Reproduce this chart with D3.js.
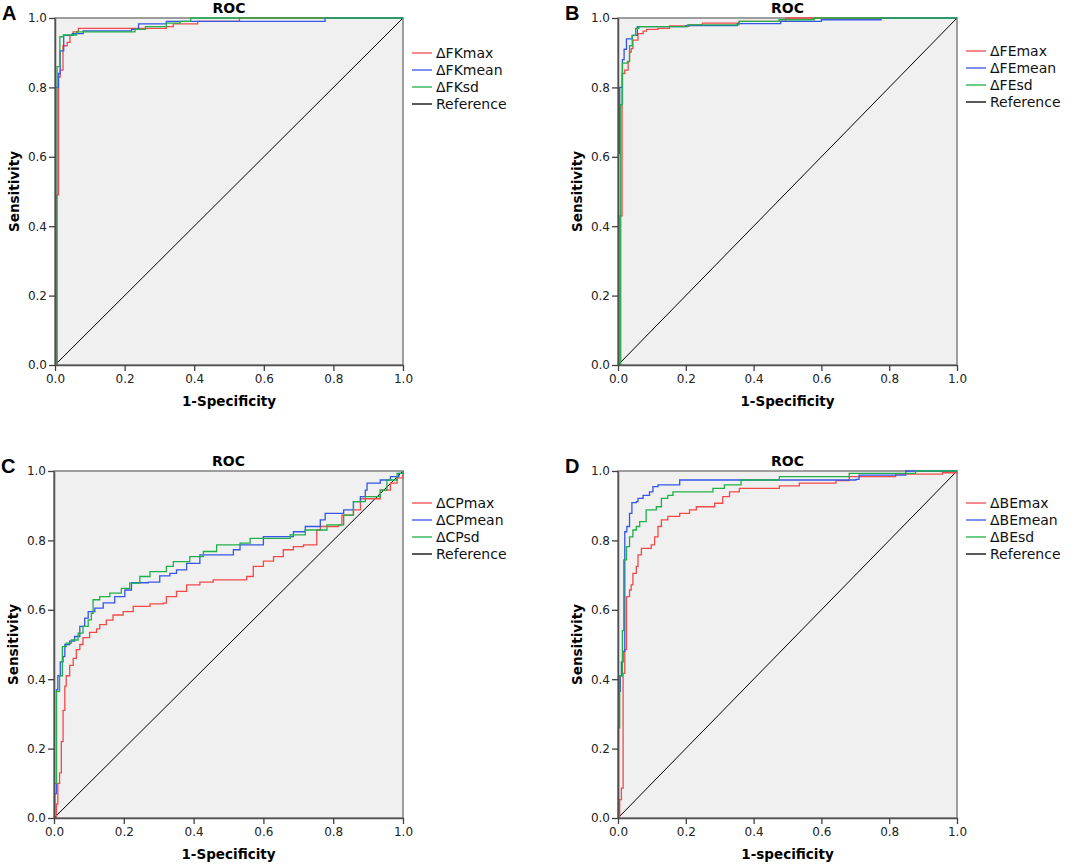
<!DOCTYPE html>
<html>
<head>
<meta charset="utf-8">
<script src="https://cdn.jsdelivr.net/npm/d3@7"></script>
<style>
  body { margin: 0; background: #fff; }
</style>
</head>
<body>
<div id="wrapper"></div>
<script>
// ROC points as [1-specificity, sensitivity] (step curves)
const fkMax = [[0,0],[0.005,0.49],[0.01,0.83],[0.015,0.85],[0.023,0.92],[0.035,0.93],[0.043,0.95],[0.052,0.96],[0.067,0.97],[0.32,0.975],[0.34,0.983],[0.41,0.99],[0.53,1],[1,1]];
const fkMean = [[0,0],[0.002,0.8],[0.01,0.84],[0.015,0.905],[0.025,0.95],[0.05,0.955],[0.081,0.963],[0.22,0.967],[0.24,0.983],[0.32,0.99],[0.776,1],[1,1]];
const fkSd = [[0,0],[0.006,0.86],[0.014,0.946],[0.024,0.951],[0.062,0.96],[0.23,0.967],[0.26,0.975],[0.32,0.985],[0.36,0.99],[0.39,1],[1,1]];

const feMax = [[0,0],[0.006,0.43],[0.012,0.84],[0.02,0.85],[0.03,0.874],[0.034,0.902],[0.039,0.912],[0.044,0.936],[0.059,0.955],[0.074,0.962],[0.084,0.967],[0.118,0.97],[0.152,0.977],[0.21,0.98],[0.249,0.985],[0.357,0.99],[0.495,1],[1,1]];
const feMean = [[0,0],[0.002,0.61],[0.005,0.8],[0.013,0.88],[0.018,0.91],[0.025,0.94],[0.042,0.95],[0.057,0.975],[0.2,0.978],[0.352,0.984],[0.48,0.99],[0.6,0.995],[0.776,1],[1,1]];
const feSd = [[0,0],[0.008,0.75],[0.013,0.87],[0.028,0.875],[0.034,0.92],[0.042,0.95],[0.052,0.97],[0.062,0.975],[0.205,0.98],[0.357,0.99],[0.475,0.995],[0.579,1],[1,1]];

const cpMax = [[0,0],[0.007,0.04],[0.011,0.1],[0.016,0.13],[0.021,0.22],[0.026,0.31],[0.031,0.38],[0.035,0.41],[0.045,0.44],[0.055,0.46],[0.064,0.485],[0.074,0.5],[0.083,0.52],[0.102,0.535],[0.122,0.545],[0.131,0.557],[0.15,0.57],[0.169,0.585],[0.198,0.595],[0.227,0.61],[0.275,0.617],[0.313,0.619],[0.322,0.638],[0.351,0.653],[0.38,0.672],[0.418,0.68],[0.456,0.686],[0.552,0.696],[0.571,0.725],[0.6,0.74],[0.629,0.753],[0.657,0.773],[0.686,0.782],[0.715,0.787],[0.753,0.83],[0.763,0.84],[0.815,0.845],[0.825,0.873],[0.858,0.888],[0.878,0.92],[0.935,0.945],[0.964,0.965],[0.983,0.98],[1,1]];
const cpMean = [[0,0],[0.002,0.07],[0.007,0.37],[0.011,0.41],[0.018,0.45],[0.026,0.465],[0.031,0.5],[0.045,0.51],[0.059,0.523],[0.074,0.552],[0.088,0.576],[0.098,0.595],[0.117,0.605],[0.141,0.62],[0.174,0.638],[0.203,0.657],[0.222,0.678],[0.27,0.68],[0.303,0.698],[0.332,0.705],[0.351,0.715],[0.38,0.734],[0.418,0.758],[0.514,0.773],[0.533,0.787],[0.6,0.811],[0.686,0.825],[0.72,0.84],[0.763,0.859],[0.777,0.878],[0.83,0.888],[0.858,0.912],[0.878,0.926],[0.892,0.945],[0.897,0.965],[0.935,0.974],[0.964,0.984],[0.988,0.993],[1,1]];
const cpSd = [[0,0],[0.002,0.1],[0.007,0.365],[0.016,0.41],[0.024,0.494],[0.035,0.504],[0.05,0.513],[0.069,0.533],[0.083,0.552],[0.098,0.571],[0.107,0.59],[0.112,0.629],[0.131,0.638],[0.16,0.648],[0.193,0.662],[0.217,0.677],[0.246,0.696],[0.275,0.71],[0.322,0.725],[0.342,0.739],[0.389,0.753],[0.428,0.768],[0.466,0.787],[0.533,0.792],[0.562,0.806],[0.677,0.816],[0.72,0.83],[0.782,0.845],[0.83,0.873],[0.858,0.912],[0.892,0.926],[0.935,0.945],[0.954,0.974],[0.983,0.993],[1,1]];

const beMax = [[0,0],[0.005,0.053],[0.01,0.086],[0.015,0.417],[0.02,0.485],[0.025,0.638],[0.034,0.657],[0.039,0.672],[0.044,0.705],[0.054,0.725],[0.059,0.758],[0.069,0.777],[0.098,0.787],[0.108,0.81],[0.118,0.84],[0.128,0.859],[0.147,0.869],[0.182,0.878],[0.211,0.888],[0.231,0.897],[0.285,0.907],[0.309,0.926],[0.329,0.94],[0.358,0.95],[0.476,0.957],[0.535,0.965],[0.643,0.972],[0.682,0.984],[0.819,0.991],[0.957,0.995],[1,1]];
const beMean = [[0,0],[0.001,0.26],[0.003,0.365],[0.007,0.41],[0.01,0.45],[0.015,0.48],[0.02,0.825],[0.026,0.84],[0.034,0.878],[0.041,0.909],[0.054,0.912],[0.059,0.921],[0.074,0.93],[0.093,0.94],[0.103,0.955],[0.118,0.96],[0.182,0.974],[0.702,0.976],[0.711,0.988],[0.849,1],[1,1]];
const beSd = [[0,0],[0.002,0.26],[0.005,0.41],[0.013,0.54],[0.017,0.744],[0.025,0.782],[0.034,0.81],[0.044,0.83],[0.054,0.84],[0.064,0.854],[0.083,0.888],[0.113,0.897],[0.128,0.921],[0.147,0.93],[0.162,0.94],[0.28,0.95],[0.314,0.96],[0.363,0.974],[0.476,0.984],[0.682,0.993],[0.878,1],[1,1]];

const tickValues = [0, 0.2, 0.4, 0.6, 0.8, 1.0];
const seriesColors = ["#f24a4a", "#3556e8", "#1fb04a"];
const referenceColor = "#000";

const panels = [
  { letter: "A", left: 55, top: 18, width: 348, height: 347, xTitle: "1-Specificity", legendTop: 35,
    series: [fkMax, fkMean, fkSd], names: ["ΔFKmax", "ΔFKmean", "ΔFKsd"] },
  { letter: "B", left: 618, top: 18, width: 339, height: 347, xTitle: "1-Specificity", legendTop: 33,
    series: [feMax, feMean, feSd], names: ["ΔFEmax", "ΔFEmean", "ΔFEsd"] },
  { letter: "C", left: 54, top: 471, width: 349, height: 347, xTitle: "1-Specificity", legendTop: 32,
    series: [cpMax, cpMean, cpSd], names: ["ΔCPmax", "ΔCPmean", "ΔCPsd"] },
  { letter: "D", left: 618, top: 471, width: 339, height: 347, xTitle: "1-specificity", legendTop: 32,
    series: [beMax, beMean, beSd], names: ["ΔBEmax", "ΔBEmean", "ΔBEsd"] }
];

const svg = d3.select("#wrapper")
  .append("svg")
  .attr("width", 1072)
  .attr("height", 865)
  .style("font-family", "'DejaVu Sans', sans-serif");

panels.forEach(p => {
  const x = d3.scaleLinear().domain([0, 1]).range([0, p.width]);
  const y = d3.scaleLinear().domain([0, 1]).range([p.height, 0]);

  const g = svg.append("g").attr("transform", `translate(${p.left}, ${p.top})`);

  // panel letter
  svg.append("text")
    .attr("x", p.left - 53)
    .attr("y", p.top + 2)
    .attr("font-family", "'Liberation Sans', Arial, sans-serif")
    .attr("font-weight", "bold")
    .attr("font-size", 20)
    .text(p.letter);

  // plot background
  g.append("rect")
    .attr("width", p.width)
    .attr("height", p.height)
    .attr("fill", "#f0f0f0")
    .attr("stroke", "#808080")
    .attr("stroke-width", 1.5);

  // title
  g.append("text")
    .attr("x", p.width / 2)
    .attr("y", -5)
    .attr("text-anchor", "middle")
    .attr("font-weight", "bold")
    .attr("font-size", 14)
    .text("ROC");

  // reference diagonal
  const line = d3.line().x(d => x(d[0])).y(d => y(d[1]));
  g.append("path")
    .datum([[0, 0], [1, 1]])
    .attr("d", line)
    .attr("fill", "none")
    .attr("stroke", referenceColor)
    .attr("stroke-width", 1);

  // ROC step curves
  const stepLine = d3.line().x(d => x(d[0])).y(d => y(d[1])).curve(d3.curveStepAfter);
  g.selectAll(".roc")
    .data(p.series)
    .join("path")
    .attr("class", "roc")
    .attr("d", stepLine)
    .attr("fill", "none")
    .attr("stroke", (d, i) => seriesColors[i])
    .attr("stroke-width", 1.3);

  // axes
  const xAxis = g.append("g")
    .attr("transform", `translate(0, ${p.height})`)
    .call(d3.axisBottom(x).tickValues(tickValues).tickFormat(d3.format(".1f")).tickSize(6).tickSizeOuter(0).tickPadding(3));
  const yAxis = g.append("g")
    .call(d3.axisLeft(y).tickValues(tickValues).tickFormat(d3.format(".1f")).tickSize(6).tickSizeOuter(0).tickPadding(2));

  [xAxis, yAxis].forEach(a => {
    a.select(".domain").attr("stroke", "#505050").attr("stroke-width", 1.5);
    a.selectAll(".tick line").attr("stroke", "#404040").attr("stroke-width", 1.3);
    a.selectAll(".tick text")
      .attr("font-family", "'DejaVu Sans', sans-serif")
      .attr("font-size", 12)
      .attr("fill", "#222");
  });

  // axis titles
  g.append("text")
    .attr("x", p.width / 2)
    .attr("y", p.height + 41)
    .attr("text-anchor", "middle")
    .attr("font-weight", "bold")
    .attr("font-size", 13.5)
    .text(p.xTitle);

  g.append("text")
    .attr("transform", `translate(-36, ${p.height / 2}) rotate(-90)`)
    .attr("text-anchor", "middle")
    .attr("font-weight", "bold")
    .attr("font-size", 13.5)
    .text("Sensitivity");

  // legend
  const legendNames = p.names.concat(["Reference"]);
  const legendColors = seriesColors.concat([referenceColor]);
  const legend = g.append("g")
    .attr("transform", `translate(${p.width + 9}, ${p.legendTop})`);

  const rows = legend.selectAll("g")
    .data(legendNames)
    .join("g")
    .attr("transform", (d, i) => `translate(0, ${i * 17})`);

  rows.append("line")
    .attr("x1", 0)
    .attr("x2", 20)
    .attr("stroke", (d, i) => legendColors[i])
    .attr("stroke-width", 1.3);

  rows.append("text")
    .attr("x", 24)
    .attr("dy", "0.35em")
    .attr("font-size", 14)
    .attr("fill", "#111")
    .text(d => d);
});
</script>
</body>
</html>
